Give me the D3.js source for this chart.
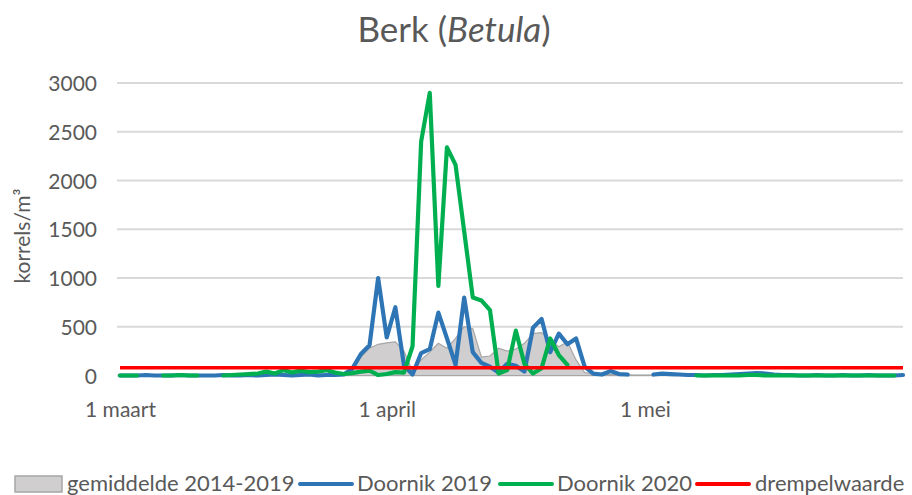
<!DOCTYPE html>
<html><head><meta charset="utf-8">
<script src="https://cdn.jsdelivr.net/npm/d3@7"></script>
<style>body{margin:0;background:#fff}svg{display:block}text{font-family:Lato,"Open Sans",sans-serif;fill:#595959}</style>
</head><body><svg id="c" width="912" height="495"></svg>
<script>
// Day index 0 = 1 maart ... 91 = 31 mei
const tickDays = [0, 31, 61];
const tickLabels = ["1 maart", "1 april", "1 mei"];
const yTicks = [0, 500, 1000, 1500, 2000, 2500, 3000];
const threshold = 80;
const seriesNames = ["gemiddelde 2014-2019", "Doornik 2019", "Doornik 2020", "drempelwaarde"];

const gemiddelde = [0,0,0,0,0,0,0,0,0,0, 0,0,0,5,5,5,5,10,10,10, 10,10,15,15,15,20,20,60,190,280,
  320,335,345,250,40,160,240,330,280,380, 500,480,190,200,280,250,270,330,430,440,
  365,295,345,160,30,15,10,10,10,5, 5,5,5,5,5,5,5,5,5,5, 5,5,5,5,5,5,5,5,5,5, 5,5,5,5,5,5,5,5,5,5, 5,5];
const doornik2019 = [0,0,0,5,0,0,0,5,0,0, 0,0,5,0,0,5,0,5,10,5, 0,5,10,0,5,5,10,70,220,310,
  1000,390,700,105,10,230,270,645,380,110, 800,240,130,90,30,120,100,40,490,580,
  240,430,320,380,90,20,10,45,15,10, null,null,10,20,15,10,5,5,0,5,
  5,10,15,20,25,20,10,5,5,0, 0,5,0,0,5,0,0,5,0,0, 0,5];
const doornik2020 = [0,0,0,null,null,0,0,5,0,0, null,null,0,5,10,15,20,40,20,55,
  30,50,35,40,55,30,15,25,40,50, 5,15,35,30,300,2400,2900,920,2340,2160,
  1480,800,770,670,20,55,460,120,20,75, 380,210,108,null,null,null,null,null,null,null,
  null,null,null,null,null,null,null,0,0,0, 0,0,0,5,5,0,0,0,0,0, 0,0,0,0,0,0,0,0,0,0, 0,null];

const svg = d3.select("#c");
const x = d3.scaleLinear().domain([0, 91]).range([120, 903]);
const y = d3.scaleLinear().domain([0, 3000]).range([375.5, 83]);

// title
const title = svg.append("text").attr("x", 454).attr("y", 42).attr("text-anchor", "middle").style("font-size", "35px");
title.append("tspan").text("Berk (");
title.append("tspan").style("font-style", "italic").text("Betula");
title.append("tspan").text(")");

// grid
svg.append("g").selectAll("line").data(yTicks).join("line")
  .attr("x1", 117).attr("x2", 903).attr("y1", d => y(d)).attr("y2", d => y(d))
  .attr("stroke", "#d9d9d9").attr("stroke-width", 1.8);

// y axis
const ya = svg.append("g").attr("transform", "translate(97,0)")
  .call(d3.axisLeft(y).tickValues(yTicks).tickSize(0).tickPadding(0).tickFormat(d3.format("d")));
ya.select(".domain").remove();
ya.selectAll("text").style("font-size", "21px").style("font-family", "Lato").attr("fill", "#595959").attr("dy", "0.36em");

svg.append("text").attr("transform", "translate(30,236) rotate(-90)").attr("text-anchor", "middle")
  .style("font-size", "21px").text("korrels/m³");

// x axis
const xa = svg.append("g").attr("transform", "translate(0,400)")
  .call(d3.axisBottom(x).tickValues(tickDays).tickSize(0).tickPadding(0).tickFormat((d, i) => tickLabels[i]));
xa.select(".domain").remove();
xa.selectAll("text").style("font-size", "21px").style("font-family", "Lato").attr("fill", "#595959").attr("dy", "0.8em");

// average area
const area = d3.area().x((d, i) => x(i)).y0(y(0)).y1(d => y(d));
svg.append("path").datum(gemiddelde).attr("d", area)
  .attr("fill", "#d0cece").attr("stroke", "#a6a6a6").attr("stroke-width", 1.2);

const line = d3.line().defined(d => d !== null).x((d, i) => x(i)).y(d => y(d));
svg.append("path").datum(doornik2019).attr("d", line).attr("fill", "none")
  .attr("stroke", "#2e75b6").attr("stroke-width", 4.2).attr("stroke-linejoin", "round").attr("stroke-linecap", "round");
svg.append("path").datum(doornik2020).attr("d", line).attr("fill", "none")
  .attr("stroke", "#00b050").attr("stroke-width", 4.2).attr("stroke-linejoin", "round").attr("stroke-linecap", "round");
svg.append("line").attr("x1", x(0)).attr("x2", x(91)).attr("y1", y(threshold)).attr("y2", y(threshold))
  .attr("stroke", "#ff0000").attr("stroke-width", 3.5);

// legend
const lg = svg.append("g");
lg.append("rect").attr("x", 15).attr("y", 476).attr("width", 47).attr("height", 16)
  .attr("fill", "#d0cece").attr("stroke", "#a6a6a6").attr("stroke-width", 1.5);
lg.append("text").attr("x", 67).attr("y", 491).style("font-size", "22px").text(seriesNames[0]);
const legItems = [[300, 357, "#2e75b6", seriesNames[1]], [500, 557, "#00b050", seriesNames[2]], [697, 755, "#ff0000", seriesNames[3]]];
legItems.forEach(([lx, tx, c, t]) => {
  lg.append("line").attr("x1", lx).attr("x2", lx + 52).attr("y1", 484).attr("y2", 484)
    .attr("stroke", c).attr("stroke-width", 4).attr("stroke-linecap", "round");
  lg.append("text").attr("x", tx).attr("y", 491).style("font-size", "22px").text(t);
});
</script></body></html>
